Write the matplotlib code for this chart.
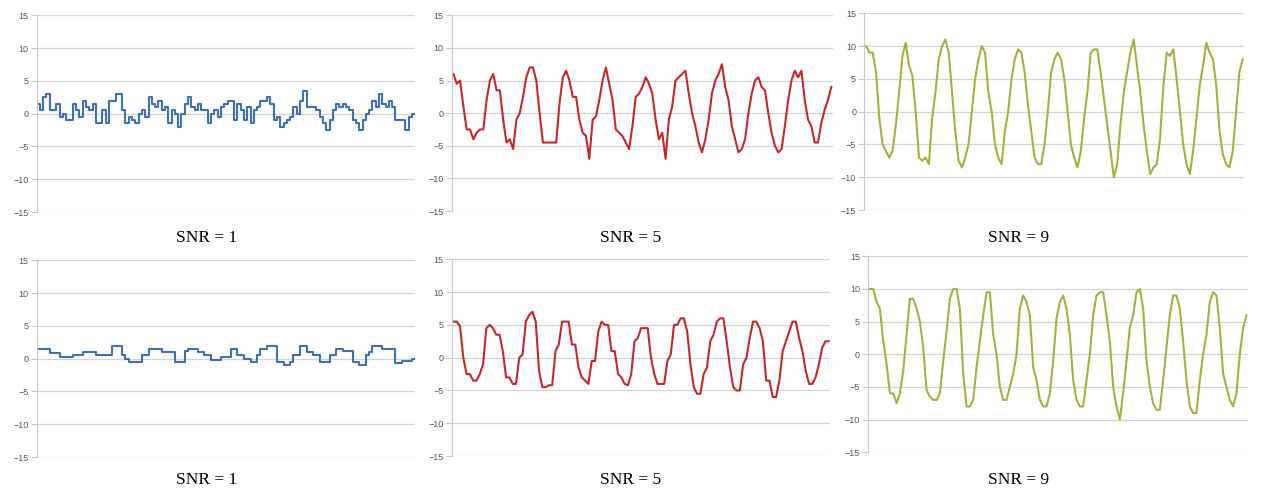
import numpy as np
import matplotlib
matplotlib.use("Agg")
import matplotlib.pyplot as plt

# values (sample-and-hold traces)
top_snr1 = [1.5, 0.5, 2.5, 3, 0.5, 0.5, 1.5, -0.5, 0, -1, -1, 1.5, 0.5, -0.5, 2, 1, 0.5, 1.5,
            -1.5, -1.5, 0.5, -1.5, 2, 2, 3, 3, 0.5, -1.5, -0.5, -1, -1.5, 0, 0.5, -0.5, 2.5, 1.5,
            1, 2, 0.5, 1, -1.5, 0.5, 0, -2, 0, 1.5, 2.5, 1, 0.5, 1.5, 0.5, 0.5, -1.5, 0, 0.5,
            -0.5, 1, 1.5, 2, 2, -1, 1.5, 0.5, -1, 1, -1.5, 0.5, 1, 2, 2, 2.5, 1.5, -1, -0.5, -2,
            -1.5, -1, -0.5, 1, 0, 2, 3.5, 1, 1, 1, 0.5, -0.5, -1.5, -2.5, -1, 0.5, 1.5, 1, 1.5,
            1, 0.5, -1, -1.5, -2.5, -1, 0, 0.5, 2, 1, 3, 1.5, 1, 2, 1, -1, -1, -1, -2.5, -0.5, 0]

top_snr5 = [6, 4.5, 5, 1, -2.5, -2.5, -4, -3, -2.5, -2.5, 2, 5, 6, 3.5, 3.5, -1, -4.5, -4, -5.5,
            -1, 0, 2.5, 5.5, 7, 7, 5, 0, -4.5, -4.5, -4.5, -4.5, -4.5, 1.5, 5.5, 6.5, 5, 2.5, 2.5,
            -1, -3, -3.5, -7, -1, -0.5, 2, 5, 7, 4.5, 2, -2.5, -3, -3.5, -4.5, -5.5, -2, 2.5, 3, 4,
            5.5, 4.5, 3, -1, -4, -3, -7, -1, 1, 5, 5.5, 6, 6.5, 3, 0, -2, -4.5, -6, -4, -1, 3, 5,
            6, 7.5, 4, 2, -2, -4, -6, -5.5, -4, 0, 3, 5, 5.5, 4, 3.5, 0, -3, -5, -6, -5.5, -2, 2,
            5, 6.5, 5.5, 6.5, 2, -1, -2, -4.5, -4.5, -1.5, 0.5, 2, 4]

top_snr9 = [10, 9, 9, 6, -1, -5, -6, -7, -6, -2, 3, 8.5, 10.5, 7, 5.5, 0, -7, -7.5, -7, -8, -1,
            3, 8, 10, 11, 9, 3, -3, -7.5, -8.5, -7, -5, 0, 5, 8, 10, 9, 3, 0, -5, -7, -8, -3, 0,
            5, 8, 9.5, 9, 6, 1, -3, -7, -8, -8, -5, 0, 6, 8, 9, 8, 5, 0, -5, -7, -8.5, -6, -1, 3,
            9, 9.5, 9.5, 6, 2, -2, -6, -10, -8, -2, 3, 6, 9, 11, 7, 3, -2, -6, -9.5, -8.5, -8, -4,
            4, 9, 8.5, 9.5, 5, 0, -5, -8, -9.5, -6, -1, 4, 7, 10.5, 9, 8, 4, -3, -6.5, -8, -8.5,
            -6, 0, 6, 8]

bot_snr1 = [1.5, 1.5, 1.5, 1.5, 0.8, 0.8, 0.8, 0.2, 0.2, 0.2, 0.2, 0.5, 0.5, 0.5, 1, 1, 1, 1,
            0.5, 0.5, 0.5, 0.5, 0.5, 2, 2, 2, 0.5, 0, -0.5, -0.5, -0.5, -0.5, 0.5, 0.5, 1.5, 1.5,
            1.5, 1.5, 1, 1, 1, 1, -0.5, -0.5, -0.5, 1.2, 1.5, 1.5, 1.5, 1, 1, 0.5, 0.5, -0.2,
            -0.2, -0.2, 0.2, 0.2, 0.2, 1.5, 1.5, 0.5, 0.5, 0, 0, -0.5, -0.5, 0.5, 1.5, 1.5, 2, 2,
            2, -0.5, -0.5, -1, -1, -0.5, 0.5, 0.5, 2, 2, 1, 1, 0.5, 0.5, -0.5, -0.5, -0.5, 0.5,
            0.5, 1.5, 1.5, 1.2, 1.2, 1.2, -0.5, -0.5, -1, -1, 0.5, 1, 2, 2, 2, 1.5, 1.5, 1.5,
            1.5, -0.7, -0.7, -0.3, -0.3, -0.3, 0]

bot_snr5 = [5.5, 5.5, 4.8, 0, -2.5, -2.5, -3.5, -3.5, -2.5, -1, 4.5, 5, 4.5, 3.5, 3.5, 1, -3,
            -3, -4, -4, 0, 0.5, 5.5, 6.5, 7, 5.5, -2, -4.5, -4.5, -4.2, -4.2, 1, 2, 5.5, 5.5, 5.5,
            2, 2, -1.5, -3, -3.5, -4, -0.5, -0.5, 4, 5.5, 5, 5, 1, 1, -2.5, -3, -4, -4.2, -2.5,
            2.5, 3, 4.5, 4.5, 4.5, 0, -2.5, -4, -4, -4, -0.5, 0.5, 5, 5, 6, 6, 4, -1, -4.5, -5.5,
            -5.5, -2.5, -1.5, 2.5, 3.5, 5.5, 6, 6, 2.5, -1.5, -4.5, -5, -5, -1, 0, 3, 5.5, 5.5,
            4.5, 2.5, -3.5, -3.5, -6, -6, -3.5, 1, 2.5, 4, 5.5, 5.5, 3, 1, -2, -4, -4, -3, -1,
            1.5, 2.5, 2.5]

bot_snr9 = [10, 10, 8, 7, 2, -1.5, -6, -6, -7.5, -6, -2.5, 3, 8.5, 8.5, 7, 5, 1, -5.5, -6.5,
            -7, -7, -6, -1, 3.5, 8.5, 10, 10, 7, -3, -8, -8, -7, -2, 2, 6, 9.5, 9.5, 3, 0, -5,
            -7, -7, -5, -3, 0, 7, 9, 8, 6, -2, -4, -7, -8, -8, -6, -1, 5.5, 8, 9, 7, 3, -4, -7,
            -8, -8, -4, 0, 6, 9, 9.5, 9.5, 6, 2, -5, -8, -10, -6, -1, 4, 6, 9.5, 10, 7, -1, -5,
            -7.5, -8.5, -8.5, -4, 1, 6, 9, 9, 7, 2, -4, -8, -9, -9, -4, 0, 3, 8, 9.5, 9, 4, -3,
            -5, -7, -8, -6, 0, 4, 6]

captions = ["SNR = 1", "SNR = 5", "SNR = 9"]
yticks = [-15, -10, -5, 0, 5, 10, 15]

blue = "#3d71b3"
red = "#c4282c"
green = "#9ab63f"

# (values, colour, draw style, axes rect)
panels = [
    (top_snr1, blue, "steps-mid", [0.029, 0.569, 0.300, 0.400]),
    (top_snr5, red, "default", [0.358, 0.571, 0.302, 0.398]),
    (top_snr9, green, "default", [0.685, 0.573, 0.301, 0.400]),
    (bot_snr1, blue, "steps-mid", [0.029, 0.071, 0.300, 0.400]),
    (bot_snr5, red, "default", [0.358, 0.073, 0.300, 0.400]),
    (bot_snr9, green, "default", [0.688, 0.081, 0.301, 0.398]),
]

fig = plt.figure(figsize=(12.62, 4.92), dpi=100)

for vals, col, ds, rect in panels:
    ax = fig.add_axes(rect)
    y = np.array(vals)
    x = np.arange(len(y))
    ax.plot(x, y, color=col, lw=1.5, drawstyle=ds)
    ax.set_xlim(-0.5, len(y) - 0.5)
    ax.set_ylim(-15, 15)
    ax.set_yticks(yticks)
    ax.set_xticks([])
    ax.grid(axis="y", color="#d4d4d4", lw=0.9)
    ax.set_axisbelow(True)
    for s in ["top", "right", "bottom"]:
        ax.spines[s].set_visible(False)
    ax.spines["left"].set_color("#c8c8c8")
    ax.tick_params(axis="y", length=4, color="#c8c8c8", labelsize=6.5,
                   labelcolor="#555555", pad=2)
    for lab in ax.get_yticklabels():
        lab.set_family("Liberation Sans")

cap_x = [0.164, 0.5, 0.807]
for row_y in [0.516, 0.024]:
    for cx, txt in zip(cap_x, captions):
        fig.text(cx, row_y, txt, ha="center", va="center", fontsize=12.5,
                 family="Liberation Serif")

fig.savefig("out.png", dpi=100)
